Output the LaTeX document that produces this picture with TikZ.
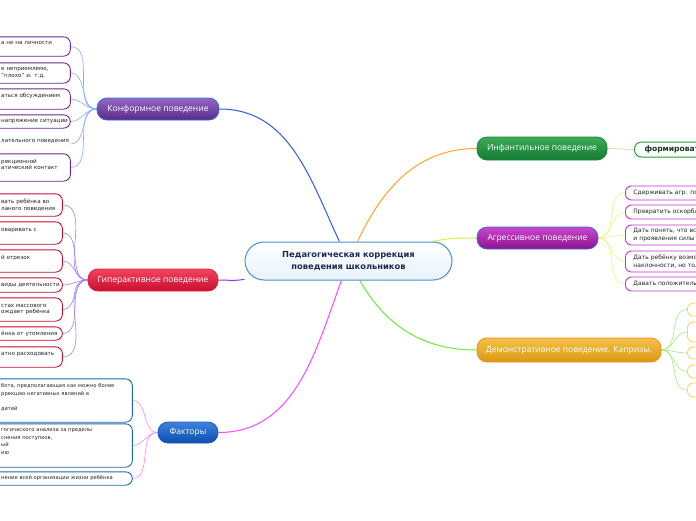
\documentclass[tikz,border=0pt]{standalone}
\usepackage{fontspec}
\setmainfont{DejaVu Sans}
\newfontfamily\branchfont{Open Sans}
\usetikzlibrary{backgrounds}

\definecolor{rootblue}{HTML}{4A8FD4}
\definecolor{rootfill}{HTML}{E8F2FC}
\definecolor{rootnavy}{HTML}{1B2A52}
\definecolor{konftop}{HTML}{9467C4}
\definecolor{konfbottom}{HTML}{5A2988}
\definecolor{konfborder}{HTML}{3470DA}
\definecolor{konfline}{HTML}{2E5CF0}
\definecolor{konffan}{HTML}{86ACFF}
\definecolor{konfleaf}{HTML}{6A2B92}
\definecolor{hyptop}{HTML}{F24462}
\definecolor{hypbottom}{HTML}{C60F2C}
\definecolor{hypborder}{HTML}{E0223F}
\definecolor{hypline}{HTML}{7A3CF2}
\definecolor{hypfan}{HTML}{9C80FF}
\definecolor{hypleaf}{HTML}{C4102E}
\definecolor{factop}{HTML}{3D84DC}
\definecolor{facbottom}{HTML}{0E4EAC}
\definecolor{facborder}{HTML}{1A5DBE}
\definecolor{facline}{HTML}{FF48FF}
\definecolor{facfan}{HTML}{FF86FF}
\definecolor{facleaf}{HTML}{1A6BAF}
\definecolor{inftop}{HTML}{3CAB58}
\definecolor{infbottom}{HTML}{137B33}
\definecolor{infborder}{HTML}{1D8A3B}
\definecolor{infline}{HTML}{FFA424}
\definecolor{inffan}{HTML}{FCCB86}
\definecolor{infleaf}{HTML}{22A040}
\definecolor{inftext}{HTML}{123A1E}
\definecolor{aggtop}{HTML}{C847CC}
\definecolor{aggbottom}{HTML}{8D138F}
\definecolor{aggborder}{HTML}{3A6EE0}
\definecolor{aggline}{HTML}{D9EE3E}
\definecolor{aggfan}{HTML}{EEF57C}
\definecolor{aggleaf}{HTML}{C232D2}
\definecolor{demtop}{HTML}{F5C04A}
\definecolor{dembottom}{HTML}{D99A12}
\definecolor{demborder}{HTML}{F28A1E}
\definecolor{demline}{HTML}{68EE34}
\definecolor{demfan}{HTML}{A0F07E}
\definecolor{demleaf}{HTML}{F8D462}
\definecolor{leafgray}{HTML}{222222}

\begin{document}
\begin{tikzpicture}[x=1pt, y=-1pt,
    branch/.style={rounded corners=10pt, line width=0.8pt, text=white, inner sep=0pt, font=\branchfont\fontsize{8.5}{10}\selectfont},
    lefttext/.style={anchor=west, align=left, inner xsep=1pt, inner ysep=0pt, text=leafgray, font=\fontsize{5.6}{6.6}\selectfont},
    leftbox/.style={rounded corners=7pt, line width=0.9pt},
    rightleaf/.style={anchor=west, align=left, text width=100pt, inner xsep=8pt, inner ysep=0pt, rounded corners=6pt, line width=0.9pt, text=leafgray, font=\fontsize{6}{8}\selectfont},
    emptyleaf/.style={anchor=west, draw=demleaf, rounded corners=6pt, line width=0.9pt, minimum width=40pt, inner sep=0pt},
    fan/.style={line width=0.6pt},
    trunk/.style={line width=1pt}
  ]
    \useasboundingbox (0,0) rectangle (696,520);

    % centre
    \node[rounded corners=19pt, draw=rootblue, line width=1pt, top color=white, bottom color=rootfill, minimum width=207pt, minimum height=38pt, align=center, text=rootnavy, font=\bfseries\fontsize{8.3}{12}\selectfont] (root) at (348.5,261) {Педагогическая коррекция\\поведения школьников};

    % branches
    \node[branch, minimum width=122pt, minimum height=22pt, draw=konfborder, top color=konftop, bottom color=konfbottom] (konf) at (158,109) {Конформное поведение};
    \node[branch, minimum width=130pt, minimum height=22pt, draw=hypborder, top color=hyptop, bottom color=hypbottom] (hyp) at (153,280) {Гиперактивное поведение};
    \node[branch, minimum width=60pt, minimum height=21pt, draw=facborder, top color=factop, bottom color=facbottom] (fac) at (188,432.5) {Факторы};
    \node[branch, minimum width=130pt, minimum height=23pt, draw=infborder, top color=inftop, bottom color=infbottom] (inf) at (542,148.5) {Инфантильное поведение};
    \node[branch, minimum width=121pt, minimum height=22pt, draw=aggborder, top color=aggtop, bottom color=aggbottom] (agg) at (537.5,238) {Агрессивное поведение};
    \node[branch, minimum width=184pt, minimum height=24pt, draw=demborder, top color=demtop, bottom color=dembottom] (dem) at (569,350) {Демонстративное поведение. Капризы.};

    % conformal leaves
    \node[lefttext, text width=68pt, minimum height=19pt] (k1) at (0,46.5) {а не на личности\\\mbox{}};
    \node[lefttext, text width=68pt, minimum height=20pt] (k2) at (0,73) {е неприемлемо,\\"плохо" и. т.д.};
    \node[lefttext, text width=68pt, minimum height=20pt] (k3) at (0,99) {аться обсуждением\\\mbox{}};
    \node[lefttext, text width=68pt, minimum height=13pt] (k4) at (0,121.5) {напряжение ситуации};
    \node[lefttext, text width=68pt, minimum height=13pt] (k5) at (0,144) {лательного поведения\\\mbox{}};
    \node[lefttext, text width=68pt, minimum height=27pt] (k6) at (0,167.5) {рекционной\\атический контакт\\\mbox{}};
    \foreach \k in {k1,k2,k3,k4,k6}
      \draw[leftbox, draw=konfleaf] ([xshift=-20pt]\k.north west) rectangle (\k.south east);

    % hyperactive leaves
    \node[lefttext, text width=60pt, minimum height=22pt] (g1) at (0,205) {вать ребёнка во\\ланого поведения};
    \node[lefttext, text width=60pt, minimum height=22pt] (g2) at (0,233) {оваривать с\\\mbox{}};
    \node[lefttext, text width=60pt, minimum height=22pt] (g3) at (0,261) {й отрезок\\\mbox{}};
    \node[lefttext, text width=60pt, minimum height=14pt] (g4) at (0,285) {виды деятельности};
    \node[lefttext, text width=60pt, minimum height=23pt] (g5) at (0,309.5) {стах массового\\ождает ребёнка};
    \node[lefttext, text width=60pt, minimum height=13pt] (g6) at (0,333.5) {ёнка от утомления};
    \node[lefttext, text width=60pt, minimum height=20pt] (g7) at (0,357) {атно расходовать\\\mbox{}};
    \foreach \g in {g1,g2,g3,g4,g5,g6,g7}
      \draw[leftbox, draw=hypleaf] ([xshift=-20pt]\g.north west) rectangle (\g.south east);

    % factor leaves
    \node[lefttext, text width=130pt, minimum height=43pt, font=\fontsize{5.2}{7.5}\selectfont] (f1) at (0,400.5) {бота, предполагающая как можно более\\ррекцию негативных явлений в\\\mbox{}\\детей\\\mbox{}};
    \node[lefttext, text width=130pt, minimum height=43pt, font=\fontsize{5.2}{7.5}\selectfont] (f2) at (0,445.5) {гогического анализа за пределы\\снения поступков,\\ый\\ию\\\mbox{}};
    \node[lefttext, text width=130pt, minimum height=13pt, font=\fontsize{5.2}{7.5}\selectfont] (f3) at (0,478.5) {нение всей организации жизни ребёнка};
    \foreach \f in {f1,f2,f3}
      \draw[leftbox, draw=facleaf] ([xshift=-20pt]\f.north west) rectangle (\f.south east);

    % infantile leaf
    \node[anchor=west, draw=infleaf, line width=1pt, rounded corners=7pt, minimum height=15pt, text width=80pt, inner xsep=10pt, inner ysep=0pt, text=inftext, font=\bfseries\fontsize{7.6}{8}\selectfont] (i1) at (634,149.5) {формироват};

    % aggressive leaves
    \node[rightleaf, draw=aggleaf, minimum height=14pt] (a1) at (625,193) {Сдерживать агр. пор};
    \node[rightleaf, draw=aggleaf, minimum height=14pt] (a2) at (625,212) {Превратить оскорбле};
    \node[rightleaf, draw=aggleaf, minimum height=20pt] (a3) at (625,235) {Дать понять, что вст\\и проявления силы};
    \node[rightleaf, draw=aggleaf, minimum height=21pt] (a4) at (625,261.5) {Дать ребёнку возмо\\наклонности, но тол};
    \node[rightleaf, draw=aggleaf, minimum height=14pt] (a5) at (625,284) {Давать положительну};

    % demonstrative leaves
    \node[emptyleaf, minimum height=13pt] (d1) at (687,309.5) {};
    \node[emptyleaf, minimum height=20pt] (d2) at (687,332) {};
    \node[emptyleaf, minimum height=12pt] (d3) at (687,353) {};
    \node[emptyleaf, minimum height=13pt] (d4) at (687,371.5) {};
    \node[emptyleaf, minimum height=14pt] (d5) at (687,390) {};

    \begin{pgfonlayer}{background}
      \fill[white] (0,0) rectangle (696,520); % paper
      \draw[trunk, konfline] (root) to[out=115, in=0] (konf); % conformal
      \draw[trunk, hypline] (root) to[out=190, in=0] (hyp); % hyperactive
      \draw[trunk, facline] (root) to[out=-110, in=0] (fac); % factors
      \draw[trunk, infline] (root) to[out=65, in=180] (inf); % infantile
      \draw[trunk, aggline] (root) to[out=13, in=180] (agg); % aggressive
      \draw[trunk, demline] (root) to[out=-60, in=180] (dem); % demonstrative
      \foreach \k in {k1,k2,k3,k4,k5,k6}
        \draw[fan, konffan] (konf) to[out=180, in=0] (\k);
      \foreach \g in {g1,g2,g3,g4,g5,g6,g7}
        \draw[fan, hypfan] (hyp) to[out=180, in=0] (\g);
      \foreach \f in {f1,f2,f3}
        \draw[fan, facfan] (fac) to[out=180, in=0] (\f);
      \draw[fan, inffan] (inf) to[out=0, in=180] (i1);
      \foreach \a in {a1,a2,a3,a4,a5}
        \draw[fan, aggfan] (agg) to[out=0, in=180] (\a);
      \foreach \d in {d1,d2,d3,d4,d5}
        \draw[fan, demfan] (dem) to[out=0, in=180] (\d);
    \end{pgfonlayer}
\end{tikzpicture}
\end{document}
